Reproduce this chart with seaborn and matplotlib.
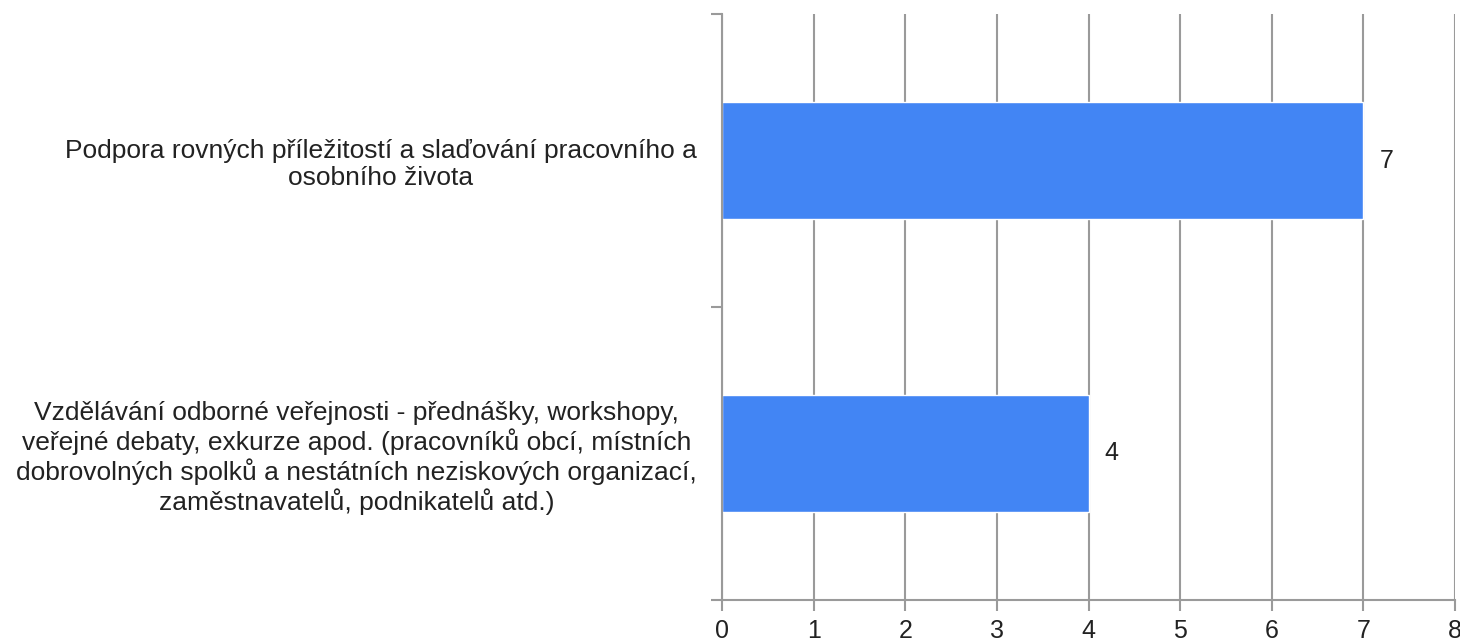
import matplotlib
matplotlib.use("Agg")
import matplotlib.pyplot as plt
import seaborn as sns
import pandas as pd

# data
categories = [
    "Podpora rovných příležitostí a slaďování pracovního a\nosobního života",
    "Vzdělávání odborné veřejnosti - přednášky, workshopy,\nveřejné debaty, exkurze apod. (pracovníků obcí, místních\ndobrovolných spolků a nestátních neziskových organizací,\nzaměstnavatelů, podnikatelů atd.)",
]
values = [7, 4]

df = pd.DataFrame({"kategorie": categories, "pocet": values})

sns.set_style("white")
plt.rcParams['font.family'] = ['Liberation Sans', 'DejaVu Sans']

grid_col = "#9a9a9a"

fig = plt.figure(figsize=(14.6, 6.43), dpi=100)
ax = fig.add_axes([722 / 1460, 1 - 600 / 643, (1455 - 722) / 1460, (600 - 14) / 643])

sns.barplot(data=df, x="pocet", y="kategorie", orient="h", color="#4285F4",
            width=0.4, saturation=1, ax=ax)

ax.set_xlim(0, 8)
ax.set_ylim(1.5, -0.5)
ax.set_xticks(range(0, 9))
ax.xaxis.grid(True, color=grid_col, linewidth=1.5)
ax.set_axisbelow(True)
ax.set_xlabel("")
ax.set_ylabel("")

# category labels: centered lines, right edge near the axis
ax.set_yticks(range(len(categories)))
ax.set_yticklabels(categories, fontsize=19, multialignment="center", color="#222222",
                   linespacing=1.15)
ax.tick_params(axis="y", which="major", left=False, length=0, pad=18)
ax.set_yticks([-0.5, 0.5, 1.5], minor=True)
ax.tick_params(axis="y", which="minor", left=True, length=8, width=1.5, color=grid_col, direction="out")
ax.tick_params(axis="x", bottom=True, length=8, width=1.5, color=grid_col, direction="out",
               labelsize=18, pad=6, labelcolor="#222222")

for s in ["top", "right"]:
    ax.spines[s].set_visible(False)
for s in ["left", "bottom"]:
    ax.spines[s].set_color(grid_col)
    ax.spines[s].set_linewidth(1.5)

for i, v in enumerate(values):
    ax.text(v + 0.25, i, str(v), va="center", ha="center", fontsize=18, color="#222222")

fig.savefig("out.png", dpi=100)
